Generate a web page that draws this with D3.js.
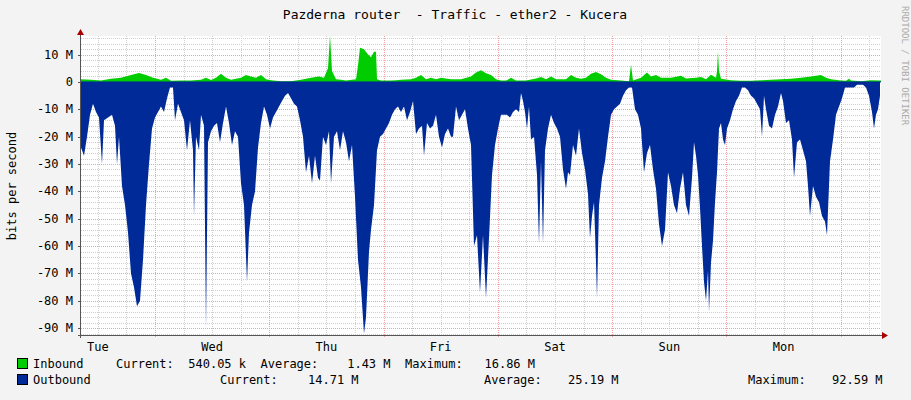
<!DOCTYPE html>
<html><head><meta charset="utf-8">
<script src="https://cdn.jsdelivr.net/npm/d3@7"></script>
<style>body{margin:0;background:#f3f3f3}text{font-family:"DejaVu Sans Mono",monospace}</style>
</head><body><svg id="c" width="911" height="400"></svg>
<script>
// time unit: 1 step = 1/800 of the week shown (7 days)
const dayLabels = ["Tue","Wed","Thu","Fri","Sat","Sun","Mon"];
const yTicks = [10,0,-10,-20,-30,-40,-50,-60,-70,-80,-90];
const outbound = [[0,-24],[3,-27],[6,-20],[9,-12],[12,-8],[15,-11],[18,-13],[21,-30],[23,-14],[27,-13],[31,-12],[34,-16],[36,-30],[38,-20],[41,-38],[44,-45],[47,-55],[50,-70],[53,-75],[56,-82],[59,-80],[62,-65],[65,-45],[68,-30],[71,-17],[74,-13],[77,-11],[80,-9],[83,-11],[86,-6],[89,-2],[92,-2],[94,-14],[97,-8],[100,-11],[103,-14],[106,-25],[109,-14],[112,-25],[113,-49],[115,-20],[118,-25],[120,-12],[123,-16],[125,-90],[127,-22],[130,-18],[133,-16],[136,-15],[139,-22],[142,-15],[145,-9],[148,-15],[151,-23],[154,-18],[157,-20],[160,-37],[163,-45],[166,-73],[168,-55],[171,-45],[174,-40],[177,-24],[180,-15],[183,-9],[186,-12],[189,-17],[192,-13],[195,-11],[198,-9],[201,-7],[204,-5],[207,-4],[210,-6],[213,-8],[216,-9],[219,-14],[222,-20],[225,-33],[228,-27],[231,-37],[234,-27],[237,-35],[239,-36],[242,-20],[245,-23],[248,-18],[250,-37],[253,-20],[256,-18],[259,-25],[262,-18],[265,-22],[268,-29],[271,-23],[274,-42],[277,-65],[280,-75],[283,-92],[285,-86],[288,-62],[290,-54],[293,-45],[296,-25],[299,-20],[302,-19],[305,-17],[308,-15],[311,-12],[314,-10],[317,-9],[320,-11],[323,-9],[326,-14],[329,-11],[332,-7],[335,-19],[338,-17],[341,-16],[343,-27],[346,-15],[349,-17],[352,-16],[355,-12],[358,-20],[361,-24],[364,-19],[367,-17],[370,-20],
[372,-20],[375,-9],[378,-14],[381,-12],[384,-10],[387,-17],[390,-23],[393,-60],[396,-56],[399,-77],[402,-56],[405,-79],[408,-57],[411,-34],[414,-23],[417,-17],[420,-12],[423,-12],[426,-12],[429,-13],[432,-11],[435,-10],[438,-11],[440,-4],[442,-7],[444,-11],[446,-17],[448,-9],[450,-21],[453,-20],[456,-34],[458,-59],[460,-29],[462,-59],[464,-25],[467,-17],[470,-12],[473,-15],[476,-17],[479,-20],[482,-32],[485,-39],[487,-33],[489,-34],[492,-23],[495,-27],[498,-17],[501,-26],[504,-32],[507,-41],[509,-57],[511,-49],[513,-44],[515,-66],[516,-79],[518,-45],[521,-35],[524,-29],[527,-20],[530,-12],[533,-10],[536,-9],[539,-8],[542,-5],[545,-3],[548,-2],[551,-2],[554,-10],[557,-12],[560,-17],[563,-33],[566,-26],[569,-23],[572,-32],[575,-39],[578,-52],[581,-60],[584,-54],[587,-33],[590,-38],[593,-45],[596,-48],[599,-39],[602,-33],[605,-45],[608,-49],[611,-35],[613,-22],[615,-27],[617,-34],[619,-46],[621,-60],[623,-73],[625,-80],[627,-69],[628,-84],[630,-66],[632,-58],[634,-44],[636,-33],[638,-17],[640,-15],[642,-21],[644,-23],[646,-17],[649,-14],[652,-10],[655,-7],[658,-5],[661,-2],[664,-2],[667,-3],[670,-5],[673,-6],[676,-8],[679,-10],[681,-20],[683,-5],[685,-10],[688,-16],[691,-17],[694,-12],[697,-9],[700,-4],[702,-7],[705,-15],[708,-14],[711,-21],[713,-35],[716,-22],[719,-21],[722,-25],[725,-29],[727,-38],[729,-49],[732,-38],[735,-42],[738,-44],[741,-49],[744,-51],[746,-56],[749,-29],[752,-21],[755,-12],[758,-9],[761,-6],[764,-2],[767,-2],[770,-2],[773,-2],[776,-1],[779,-1],[782,-1],[785,-2],[788,-5],[791,-11],[793,-17],[795,-12],[797,-10],[799,-5]];
const inbound = [[0,1],[10,0.8],[20,0.5],[30,1.2],[40,1.5],[50,2.5],[58,3.3],[65,2.5],[72,1.5],[80,0.8],[85,1.5],[90,0.4],[100,0.5],[110,0.5],[120,0.8],[125,1.5],[130,0.7],[135,1.5],[140,3],[145,1.5],[150,0.8],[160,1.5],[165,2.5],[170,2],[175,1.5],[180,2.5],[185,1],[190,0.6],[200,0.3],[210,0.3],[220,0.8],[230,1.5],[238,2],[243,1.5],[247,5],[249,17],[251,4],[255,1],[260,0.8],[265,0.5],[275,1],[277,6],[279,12.5],[283,12],[287,10],[290,9],[293,11],[295,11],[296,1],[300,0.5],[310,0.5],[315,0.6],[320,0.8],[330,1],[335,1.5],[340,2.5],[345,1],[350,1.5],[355,1],[360,1.5],[370,1],[380,1],[390,2],[395,3.5],[400,4.3],[405,3.2],[410,2.5],[415,1],[420,0.5],[425,0.5],[430,1.5],[435,0.5],[445,0.5],[455,1.3],[460,1.8],[465,1],[470,2],[475,1],[485,1],[490,2.5],[495,1.5],[500,1.2],[505,1.5],[510,3],[515,3.6],[520,2.8],[525,1.5],[530,0.8],[540,0.5],[548,0.3],[550,6.3],[552,0.5],[560,1.5],[566,3.5],[570,2],[575,2.5],[580,1.5],[590,1.5],[600,2.3],[605,1.3],[615,1.5],[620,1.8],[625,1],[630,2.6],[635,1.5],[636,4],[637,11],[638,4],[640,1.2],[650,0.6],[660,0.4],[670,0.4],[680,0.6],[690,0.8],[700,1],[710,1.2],[720,1.5],[730,2],[740,2.5],[745,1.5],[750,1],[760,0.5],[765,0.4],[768,1.2],[770,0.5],[780,0.3],[790,0.6],[800,0.5]];
const DAY = 800/7, MIDNIGHT0 = 74;

const svg = d3.select("#c");
const x = d3.scaleLinear().domain([0,800]).range([81,881]);
const y = d3.scaleLinear().domain([-92.5,16.8]).range([335,36]);
svg.append("rect").attr("x",81).attr("y",36).attr("width",800).attr("height",299).attr("fill","#fff");
const g = svg.append("g");
// minor grid
d3.range(-92,17,2).filter(v=>v%10!==0).forEach(v=>g.append("line").attr("x1",81).attr("x2",881).attr("y1",Math.round(y(v))+0.5).attr("y2",Math.round(y(v))+0.5).attr("stroke","#d0d0d0").attr("stroke-dasharray","1,1"));
d3.range(MIDNIGHT0-2*DAY/4*2, 800, DAY/4).filter(t=>t>0).forEach(t=>g.append("line").attr("x1",Math.round(x(t))+0.5).attr("x2",Math.round(x(t))+0.5).attr("y1",36).attr("y2",335).attr("stroke","#d0d0d0").attr("stroke-dasharray","1,1"));
// major grid
yTicks.forEach(v=>g.append("line").attr("x1",81).attr("x2",881).attr("y1",Math.round(y(v))+0.5).attr("y2",Math.round(y(v))+0.5).attr("stroke","#f0a0a0").attr("stroke-dasharray","1,1"));
d3.range(MIDNIGHT0,800,DAY).forEach(t=>g.append("line").attr("x1",Math.round(x(t))+0.5).attr("x2",Math.round(x(t))+0.5).attr("y1",36).attr("y2",338).attr("stroke","#f0a0a0").attr("stroke-dasharray","1,1"));
// areas
const area = d3.area().x(d=>x(d[0])).y0(y(0)).y1(d=>y(d[1]));
svg.append("path").datum(outbound).attr("d",area).attr("fill","#002a97");
svg.append("path").datum(inbound).attr("d",area).attr("fill","#00cc00");
svg.append("line").attr("x1",81).attr("x2",881).attr("y1",y(0)).attr("y2",y(0)).attr("stroke","#002a97").attr("stroke-width",1);
// axes
svg.append("line").attr("x1",80.5).attr("x2",80.5).attr("y1",33).attr("y2",338).attr("stroke","#555");
svg.append("line").attr("x1",78).attr("x2",884).attr("y1",335.5).attr("y2",335.5).attr("stroke","#555");
svg.append("path").attr("d","M77,35 L84,35 L80.5,29 Z").attr("fill","#a00");
svg.append("path").attr("d","M882,332 L882,339 L888,335.5 Z").attr("fill","#a00");
yTicks.forEach(v=>{
  svg.append("text").attr("x",73).attr("y",y(v)+4).attr("text-anchor","end").attr("font-size",12).attr("fill","#000").text(v===0?"0":(v<0?"-":"")+Math.abs(v)+" M");
  svg.append("line").attr("x1",78).attr("x2",81).attr("y1",Math.round(y(v))+0.5).attr("y2",Math.round(y(v))+0.5).attr("stroke","#555");
});
dayLabels.forEach((d,i)=>svg.append("text").attr("x",x(MIDNIGHT0-DAY/2+i*DAY)).attr("y",351).attr("text-anchor","middle").attr("font-size",12).text(d));
svg.append("text").attr("x",455).attr("y",19).attr("text-anchor","middle").attr("font-size",13).attr("xml:space","preserve").text("Pazderna router  - Traffic - ether2 - Kucera");
svg.append("text").attr("transform","translate(16,186) rotate(-90)").attr("text-anchor","middle").attr("font-size",12).text("bits per second");
svg.append("text").attr("transform","translate(902,6) rotate(90)").attr("font-size",9).attr("fill","#aaa").text("RRDTOOL / TOBI OETIKER");
// legend
const leg = [{c:"#00cc00",y:368,parts:[[33,"Inbound"],[116,"Current:  540.05 k  Average:    1.43 M  Maximum:   16.86 M"]]},
             {c:"#002a97",y:384,parts:[[33,"Outbound"],[220,"Current:"],[308,"14.71 M"],[484,"Average:"],[568,"25.19 M"],[748,"Maximum:"],[832,"92.59 M"]]}];
leg.forEach(l=>{
  svg.append("rect").attr("x",17.5).attr("y",l.y-9.5).attr("width",10).attr("height",10).attr("fill",l.c).attr("stroke","#000");
  l.parts.forEach(p=>svg.append("text").attr("x",p[0]).attr("y",l.y).attr("font-size",12).attr("xml:space","preserve").text(p[1]));
});
</script></body></html>
